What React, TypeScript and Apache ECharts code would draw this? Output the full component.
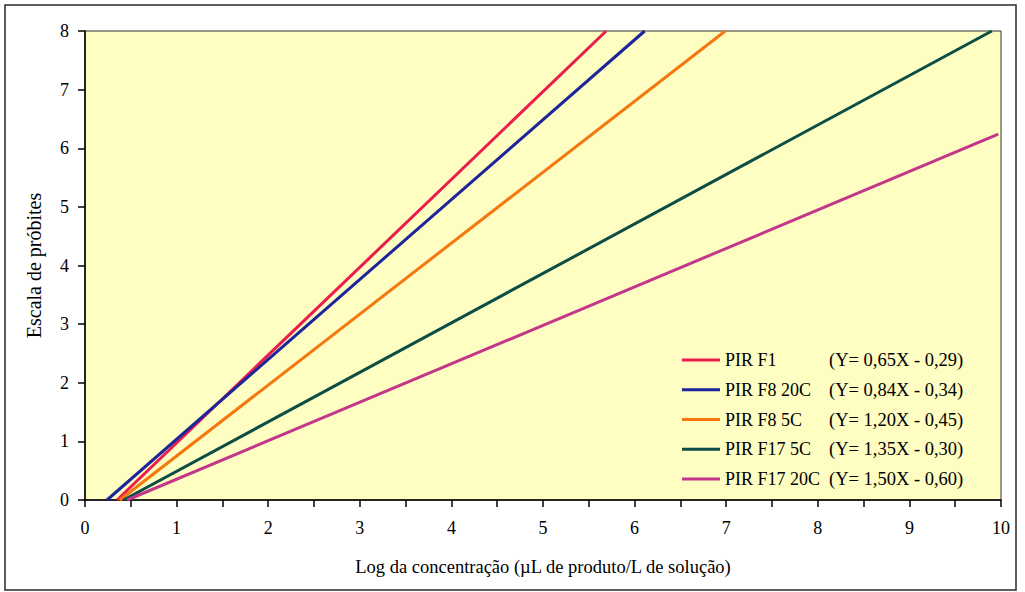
import React, { useEffect, useRef } from "react";
import * as echarts from "echarts";

const seriesNames = ["PIR F1", "PIR F8 20C", "PIR F8 5C", "PIR F17 5C", "PIR F17 20C"];
const equations = [
  "(Y= 0,65X - 0,29)",
  "(Y= 0,84X - 0,34)",
  "(Y= 1,20X - 0,45)",
  "(Y= 1,35X - 0,30)",
  "(Y= 1,50X - 0,60)",
];
const startX = [0.35, 0.24, 0.38, 0.42, 0.46];
const startY = [0, 0, 0, 0, 0];
const endX = [5.69, 6.11, 6.99, 9.9, 9.97];
const endY = [8, 8, 8, 8, 6.24];
const colors = ["#EC1C4D", "#1C2599", "#F5780F", "#0C4D45", "#C4368A"];

const xTicks = { min: 0, max: 10, interval: 1 };
const yTicks = { min: 0, max: 8, interval: 1 };

const FONT = "'Liberation Serif', 'Times New Roman', serif";

export default function App() {
  const ref = useRef<HTMLDivElement>(null);
  useEffect(() => {
    if (!ref.current) return;
    const chart = echarts.init(ref.current, undefined, { renderer: "svg" });
    const eqMap: Record<string, string> = {};
    seriesNames.forEach((n, i) => (eqMap[n] = equations[i]));
    chart.setOption({
      animation: false,
      backgroundColor: "#ffffff",
      textStyle: { fontFamily: FONT, color: "#000" },
      graphic: [
        {
          type: "rect",
          shape: { x: 5, y: 5, width: 1011, height: 585 },
          style: { fill: "none", stroke: "#2a2a2a", lineWidth: 1.5 },
          z: 100,
        },
      ],
      grid: {
        left: 85,
        right: 24,
        top: 31,
        bottom: 92,
        show: true,
        backgroundColor: "#FEFDC2",
        borderColor: "#333",
        borderWidth: 1,
      },
      legend: {
        orient: "vertical",
        left: 677,
        top: 340,
        itemWidth: 38,
        itemHeight: 3,
        itemGap: 0,
        icon: "rect",
        data: seriesNames,
        textStyle: {
          fontFamily: FONT,
          fontSize: 18,
          color: "#000",
          lineHeight: 29.8,
          rich: {
            a: { width: 104, fontFamily: FONT, fontSize: 18, color: "#000", lineHeight: 29.8 },
            b: { fontFamily: FONT, fontSize: 18.5, color: "#000", lineHeight: 29.8 },
          },
        },
        formatter: (name: string) => `{a|${name}}{b|${eqMap[name]}}`,
      },
      xAxis: {
        type: "value",
        min: xTicks.min,
        max: xTicks.max,
        interval: xTicks.interval,
        name: "Log da concentração (µL de produto/L de solução)",
        nameLocation: "middle",
        nameGap: 57,
        nameTextStyle: { fontFamily: FONT, fontSize: 18.5, color: "#000" },
        axisLine: { show: true, lineStyle: { color: "#000", width: 1.5 } },
        axisTick: { show: true, inside: false, length: 7, lineStyle: { color: "#000", width: 1.5 } },
        minorTick: { show: true, splitNumber: 2, length: 7, lineStyle: { color: "#000", width: 1.5 } },
        axisLabel: { fontFamily: FONT, fontSize: 18, color: "#000", margin: 19 },
        splitLine: { show: false },
      },
      yAxis: {
        type: "value",
        min: yTicks.min,
        max: yTicks.max,
        interval: yTicks.interval,
        name: "Escala de próbites",
        nameLocation: "middle",
        nameRotate: 90,
        nameGap: 41,
        nameTextStyle: { fontFamily: FONT, fontSize: 20, color: "#000" },
        axisLine: { show: true, lineStyle: { color: "#000", width: 1.5 } },
        axisTick: { show: true, inside: false, length: 7, lineStyle: { color: "#000", width: 1.5 } },
        axisLabel: { fontFamily: FONT, fontSize: 18, color: "#000", margin: 16 },
        splitLine: { show: false },
      },
      series: seriesNames.map((name, i) => ({
        name,
        type: "line",
        showSymbol: false,
        symbol: "none",
        color: colors[i],
        lineStyle: { color: colors[i], width: 3 },
        data: [
          [startX[i], startY[i]],
          [endX[i], endY[i]],
        ],
      })),
    });
    return () => chart.dispose();
  }, []);
  return (
    <div
      ref={ref}
      style={{ position: "fixed", left: 0, top: 0, width: 1025, height: 592 }}
    />
  );
}
